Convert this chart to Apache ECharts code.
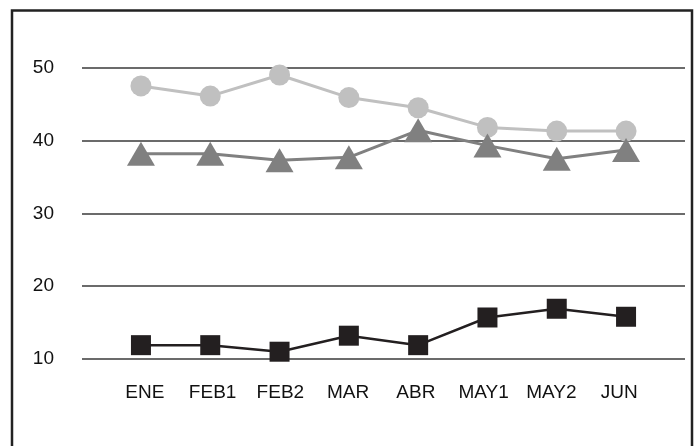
<!DOCTYPE html>
<html>
<head>
<meta charset="utf-8">
<script src="https://cdn.jsdelivr.net/npm/echarts@6/dist/echarts.min.js"></script>
<style>
  html, body { margin: 0; padding: 0; background: #ffffff; }
  #chart { width: 694px; height: 446px; }
</style>
</head>
<body>
<div id="chart"></div>
<script>
// Period labels along the bottom
var categories = ['ENE', 'FEB1', 'FEB2', 'MAR', 'ABR', 'MAY1', 'MAY2', 'JUN'];

// Three monthly series
var seriesCircle   = [47.5, 46.1, 49.0, 45.9, 44.5, 41.8, 41.3, 41.3];
var seriesTriangle = [38.2, 38.2, 37.3, 37.7, 41.4, 39.3, 37.5, 38.7];
var seriesSquare   = [11.9, 11.9, 11.0, 13.2, 11.9, 15.7, 16.9, 15.8];

// Value axis range and step
var yMin = 10, yMax = 50, yStep = 10;

var FONT = '"Liberation Sans", Arial, Helvetica, sans-serif';

var chart = echarts.init(document.getElementById('chart'), null, { renderer: 'canvas' });

chart.setOption({
  backgroundColor: '#ffffff',
  animation: false,
  graphic: [{
    type: 'rect',
    shape: { x: 12, y: 10.5, width: 680, height: 470 },
    style: { fill: 'none', stroke: '#222222', lineWidth: 2.5 },
    silent: true,
    z: 100
  }],
  grid: [
    // wide grid: horizontal rules and value labels
    { left: 82, right: 9, top: 67.7, bottom: 87 },
    // data grid: category positions of the markers
    { left: 106.3, right: 33.3, top: 67.7, bottom: 87 },
    // label grid: category names along the bottom
    { left: 111, right: 41, top: 67.7, bottom: 87 }
  ],
  xAxis: [
    {
      gridIndex: 0, type: 'value', min: 0, max: 1,
      show: false
    },
    {
      gridIndex: 1, type: 'category', data: categories, boundaryGap: true,
      show: false
    },
    {
      gridIndex: 2, type: 'category', data: categories, boundaryGap: true,
      axisLine: { show: false },
      axisTick: { show: false },
      splitLine: { show: false },
      axisLabel: {
        color: '#111111', fontFamily: FONT, fontSize: 19, margin: 24
      }
    }
  ],
  yAxis: [
    {
      gridIndex: 0, type: 'value', min: yMin, max: yMax, interval: yStep,
      axisLine: { show: false },
      axisTick: { show: false },
      axisLabel: {
        color: '#111111', fontFamily: FONT, fontSize: 19, margin: 28
      },
      splitLine: { show: true, lineStyle: { color: '#3a3a3a', width: 1.6 } }
    },
    {
      gridIndex: 1, type: 'value', min: yMin, max: yMax, interval: yStep,
      show: false
    },
    {
      gridIndex: 2, type: 'value', min: yMin, max: yMax, interval: yStep,
      show: false
    }
  ],
  series: [
    {
      type: 'line', xAxisIndex: 1, yAxisIndex: 1,
      data: seriesCircle,
      symbol: 'circle', symbolSize: 21,
      lineStyle: { color: '#c0c0c0', width: 3 },
      itemStyle: { color: '#c0c0c0' },
      z: 2
    },
    {
      type: 'line', xAxisIndex: 1, yAxisIndex: 1,
      data: seriesTriangle,
      symbol: 'triangle', symbolSize: [28, 24],
      lineStyle: { color: '#808080', width: 3 },
      itemStyle: { color: '#808080' },
      z: 3
    },
    {
      type: 'line', xAxisIndex: 1, yAxisIndex: 1,
      data: seriesSquare,
      symbol: 'rect', symbolSize: 20,
      lineStyle: { color: '#231f20', width: 2.5 },
      itemStyle: { color: '#231f20' },
      z: 4
    }
  ]
});
</script>
</body>
</html>
